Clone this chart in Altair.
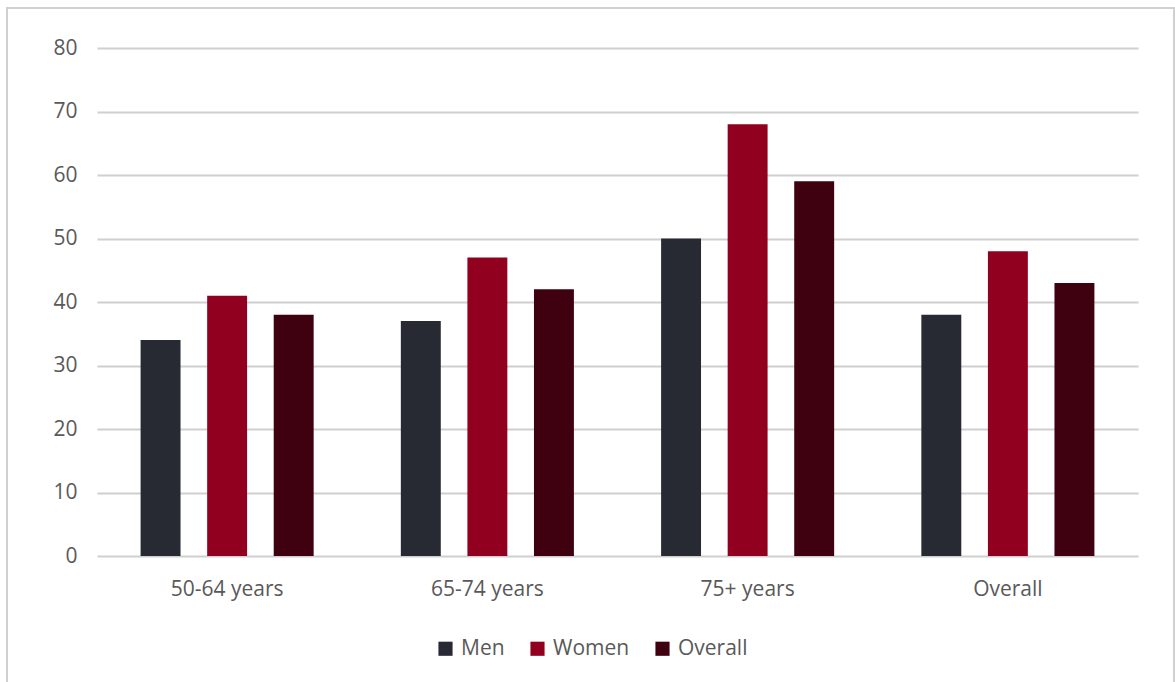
import altair as alt
import pandas as pd

groups = ["50-64 years", "65-74 years", "75+ years", "Overall"]
series = ["Men", "Women", "Overall"]
men = [34, 37, 50, 38]
women = [41, 47, 68, 48]
overall = [38, 42, 59, 43]
colors = ["#272a32", "#92001f", "#3f000f"]

rows = []
for i, g in enumerate(groups):
    for s, vals in zip(series, [men, women, overall]):
        rows.append({"group": g, "series": s, "value": vals[i]})
df = pd.DataFrame(rows)

FONT = "Open Sans"

bars = alt.Chart(df).mark_bar().encode(
    x=alt.X("group:N", sort=groups, title=None,
            scale=alt.Scale(paddingInner=0, paddingOuter=0),
            axis=alt.Axis(labelAngle=0, domain=False, ticks=False, labelPadding=22,
                          labelFontSize=21, labelColor="#595959", labelFont=FONT)),
    xOffset=alt.XOffset("series:N", sort=series,
                        scale=alt.Scale(paddingInner=0.4, paddingOuter=0.655)),
    y=alt.Y("value:Q", title=None,
            scale=alt.Scale(domain=[0, 80]),
            axis=alt.Axis(values=list(range(0, 81, 10)), domain=False, ticks=False,
                          labelPadding=20, labelFontSize=21, labelColor="#595959",
                          labelFont=FONT, gridColor="#cfcfcf", gridWidth=2)),
    color=alt.Color("series:N", sort=series, title=None,
                    scale=alt.Scale(domain=series, range=colors),
                    legend=alt.Legend(orient="none", legendX=338, legendY=590,
                                      direction="horizontal", symbolType="square",
                                      symbolSize=200, symbolStrokeWidth=0,
                                      labelFontSize=21, labelColor="#595959",
                                      labelFont=FONT, columnPadding=22,
                                      labelOffset=5)),
)

border = alt.Chart(pd.DataFrame({"a": [0]})).mark_rect(
    fill=None, stroke="#d0d0d0", strokeWidth=2
).encode(
    x=alt.value(-90), x2=alt.value(1077), y=alt.value(-40), y2=alt.value(700)
)

chart = alt.layer(border, bars).properties(
    width=1041, height=508,
    autosize=alt.AutoSizeParams(type="none"),
    padding={"left": 97, "top": 48, "right": 37, "bottom": 126},
).configure(background="white").configure_view(stroke=None)

chart.save("out.html", embed_options={"renderer": "svg", "actions": False})
